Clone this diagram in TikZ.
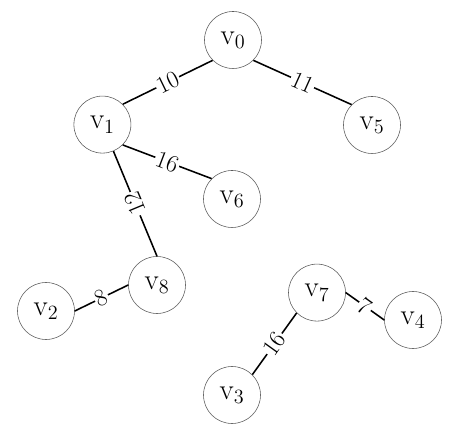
\documentclass[tikz,border=0pt]{standalone}
\usepackage{tikz}
\usetikzlibrary{positioning}

\begin{document}
\begin{tikzpicture}[
    vertex/.style={draw=black!65, circle, minimum size=1.425cm, inner sep=0pt,
                   font=\huge},
    edge/.style={line width=1.1pt},
    weight/.style={fill=white, inner sep=1pt, font=\LARGE, sloped},
]
\useasboundingbox (0,0) rectangle (11.575,10.775);

% vertices
\node[vertex] (v0) at (5.825,9.775) {$\mathrm{v}_{0}$};
\node[vertex] (v1) at (2.56,7.66)   {$\mathrm{v}_{1}$};
\node[vertex] (v5) at (9.30,7.65)   {$\mathrm{v}_{5}$};
\node[vertex] (v6) at (5.80,5.80)   {$\mathrm{v}_{6}$};
\node[vertex] (v8) at (3.925,3.65)  {$\mathrm{v}_{8}$};
\node[vertex] (v2) at (1.15,3.00)   {$\mathrm{v}_{2}$};
\node[vertex] (v7) at (7.925,3.46)  {$\mathrm{v}_{7}$};
\node[vertex] (v4) at (10.325,2.775) {$\mathrm{v}_{4}$};
\node[vertex] (v3) at (5.80,0.90)   {$\mathrm{v}_{3}$};

% weighted edges
\draw[edge] (v1.north east) -- node[weight] {10} (v0.south west);
\draw[edge] (v0.south east) -- node[weight] {11} (v5.north west);
\draw[edge] (v1.south east) -- node[weight] {16} (v6.north west);
\draw[edge] (v8.north) -- node[weight, allow upside down] {12} (v1);
\draw[edge] (v2.east) -- node[weight] {8} (v8.west);
\draw[edge] (v7.east) -- node[weight] {7} (v4.west);
\draw[edge] (v3.north east) -- node[weight] {16} (v7.south west);

\end{tikzpicture}
\end{document}
